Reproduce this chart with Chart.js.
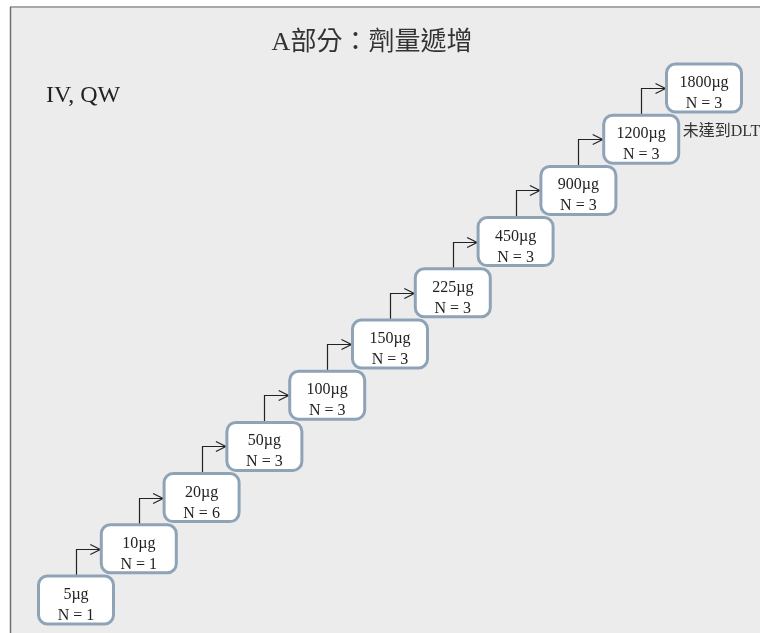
<!DOCTYPE html>
<html>
<head>
<meta charset="utf-8">
<script src="https://cdn.jsdelivr.net/npm/chart.js@4/dist/chart.umd.min.js"></script>
<style>
  html, body { margin: 0; padding: 0; background: #fff; }
  #wrap { width: 760px; height: 633px; }
</style>
</head>
<body>
<div id="wrap"><canvas id="escalation"></canvas></div>
<script>
// dose levels, in order
const doses = ["5µg", "10µg", "20µg", "50µg", "100µg", "150µg", "225µg", "450µg", "900µg", "1200µg", "1800µg"];
const cohortN = [1, 1, 6, 3, 3, 3, 3, 3, 3, 3, 3];
const levels = doses.map((d, i) => i);
const titleText = "A部分：劑量遞增";
const routeText = "IV, QW";
const noDltText = "未達到DLT";
const noDltLevel = 9; // label next to 1200µg

const serif = "'Liberation Serif', 'Noto Sans CJK TC', serif";

// background frame
const framePlugin = {
  id: "frame",
  beforeDraw(chart) {
    const ctx = chart.ctx;
    ctx.save();
    ctx.fillStyle = "#fff";
    ctx.fillRect(0, 0, chart.width, chart.height);
    ctx.fillStyle = "#ececec";
    ctx.fillRect(10, 7, chart.width - 10, chart.height - 7);
    ctx.strokeStyle = "#a8a8a8";
    ctx.lineWidth = 2;
    ctx.beginPath();
    ctx.moveTo(10, 7); ctx.lineTo(chart.width, 7);
    ctx.stroke();
    ctx.strokeStyle = "#707070";
    ctx.lineWidth = 1.5;
    ctx.beginPath();
    ctx.moveTo(10.5, 7); ctx.lineTo(10.5, chart.height);
    ctx.stroke();
    ctx.restore();
  }
};

function roundRect(ctx, x, y, w, h, r) {
  ctx.beginPath();
  ctx.moveTo(x + r, y);
  ctx.arcTo(x + w, y, x + w, y + h, r);
  ctx.arcTo(x + w, y + h, x, y + h, r);
  ctx.arcTo(x, y + h, x, y, r);
  ctx.arcTo(x, y, x + w, y, r);
  ctx.closePath();
}

// boxes + step arrows drawn at the scatter points
const stepsPlugin = {
  id: "steps",
  afterDatasetsDraw(chart) {
    const ctx = chart.ctx;
    const pts = chart.getDatasetMeta(0).data;
    const bw = 75, bh = 48;
    ctx.save();

    // connectors
    ctx.strokeStyle = "#222";
    ctx.lineWidth = 1.2;
    for (let i = 0; i < pts.length - 1; i++) {
      const a = pts[i], b = pts[i + 1];
      const x0 = Math.round(a.x) + 0.5;
      const y0 = a.y - bh / 2;
      const y1 = Math.round(b.y) + 0.5;
      const x1 = b.x - bw / 2 - 1;
      ctx.beginPath();
      ctx.moveTo(x0, y0);
      ctx.lineTo(x0, y1);
      ctx.lineTo(x1, y1);
      ctx.moveTo(x1 - 10, y1 - 5);
      ctx.lineTo(x1, y1);
      ctx.lineTo(x1 - 10, y1 + 5);
      ctx.stroke();
    }

    // boxes
    pts.forEach((p, i) => {
      roundRect(ctx, p.x - bw / 2, p.y - bh / 2, bw, bh, 9);
      ctx.fillStyle = "#fff";
      ctx.fill();
      ctx.strokeStyle = "#8fa3b7";
      ctx.lineWidth = 3;
      ctx.stroke();
      ctx.fillStyle = "#222";
      ctx.font = "16px " + serif;
      ctx.textAlign = "center";
      ctx.textBaseline = "alphabetic";
      ctx.fillText(doses[i], p.x, p.y - 1);
      ctx.fillText("N = " + cohortN[i], p.x, p.y + 20);
    });

    // side labels
    ctx.fillStyle = "#333";
    ctx.textAlign = "left";
    ctx.textBaseline = "alphabetic";
    ctx.font = "16px " + serif;
    const q = pts[noDltLevel];
    ctx.fillText(noDltText, q.x + bw / 2 + 4, q.y - 3);
    ctx.font = "24px " + serif;
    ctx.fillStyle = "#222";
    ctx.fillText(routeText, 46, 102);
    ctx.restore();
  }
};

new Chart(document.getElementById("escalation"), {
  type: "scatter",
  data: {
    datasets: [{
      label: "dose levels",
      data: levels.map(i => ({ x: i, y: i })),
      pointRadius: 0,
      pointHoverRadius: 0
    }]
  },
  options: {
    responsive: true,
    maintainAspectRatio: false,
    animation: false,
    layout: { padding: { left: 0, top: 0, bottom: 0, right: 16 } },
    plugins: {
      legend: { display: false },
      tooltip: { enabled: false },
      title: {
        display: true,
        text: titleText,
        color: "#333",
        font: { family: serif, size: 26, weight: "normal" },
        padding: { top: 28, bottom: 0 }
      }
    },
    scales: {
      x: { type: "linear", display: false, min: -1.21, max: 10.637 },
      y: { type: "linear", display: false, min: -0.645, max: 10.5625 }
    }
  },
  plugins: [framePlugin, stepsPlugin]
});
</script>
</body>
</html>
